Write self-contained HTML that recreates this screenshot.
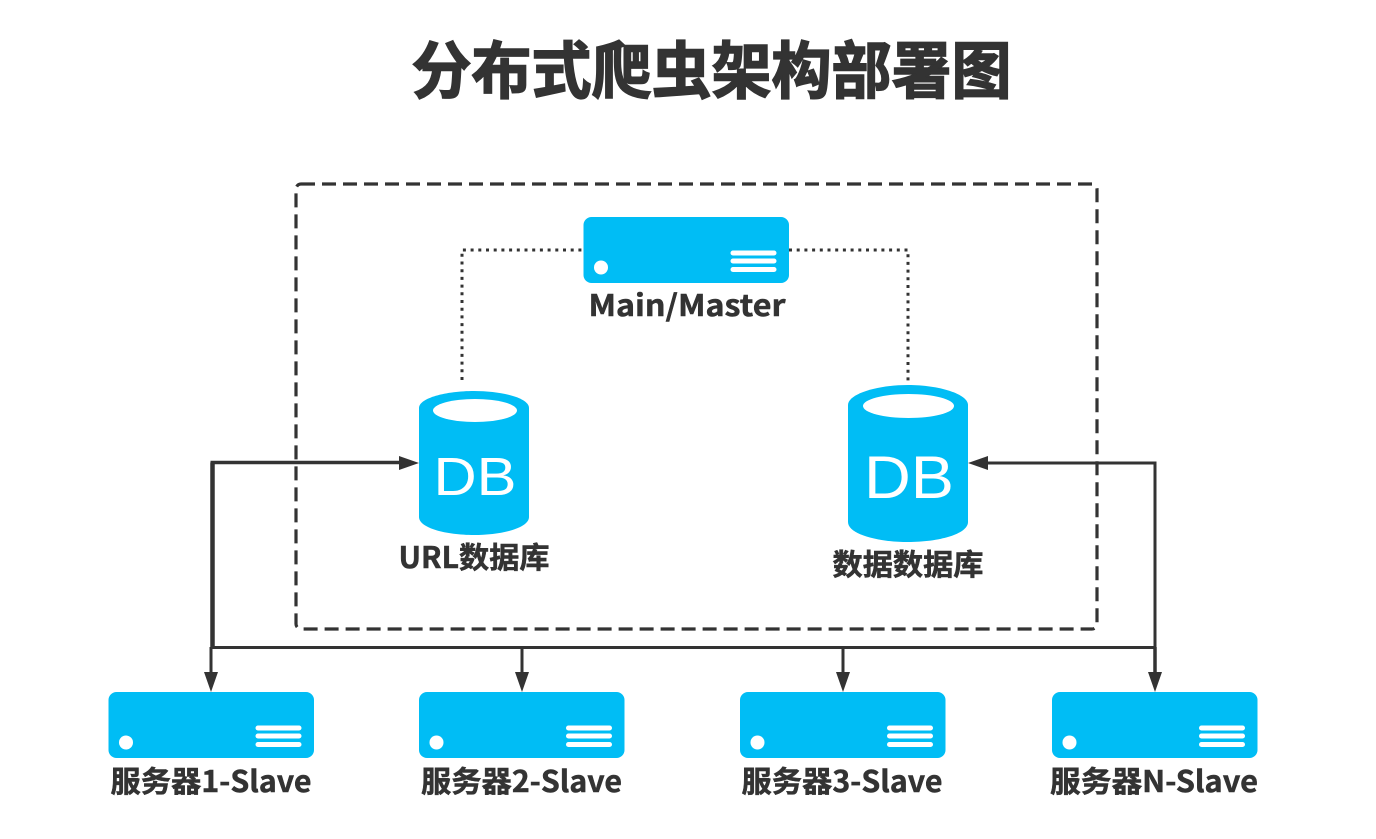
<!DOCTYPE html>
<html lang="zh">
<head>
<meta charset="utf-8">
<title>分布式爬虫架构部署图</title>
<style>
html,body{margin:0;padding:0;background:#fff;width:1376px;height:839px;overflow:hidden}
svg{display:block}
text{font-family:"Noto Sans CJK SC","Liberation Sans",sans-serif;font-weight:700;fill:#333}
.lbl{font-size:29.500px;stroke:#333;stroke-width:.5px}
.db{font-family:"Liberation Sans",sans-serif;font-weight:400;fill:#fff}
</style>
</head>
<body>
<svg width="1376" height="839" viewBox="0 0 1376 839" xmlns="http://www.w3.org/2000/svg">
<defs>
<g id="srv">
<rect x="0" y="0" width="205.500" height="66" rx="8" fill="#00bdf5"/>
<circle cx="17.500" cy="50.500" r="7" fill="#fff"/>
<rect x="147" y="33.500" width="46" height="5" rx="2.500" fill="#fff"/>
<rect x="147" y="41.500" width="46" height="5" rx="2.500" fill="#fff"/>
<rect x="147" y="50" width="46" height="5" rx="2.500" fill="#fff"/>
</g>
</defs>

<text x="711.500" y="93" font-size="62" text-anchor="middle" textLength="600" lengthAdjust="spacingAndGlyphs" stroke="#333" stroke-width="1.600">分布式爬虫架构部署图</text>

<rect x="296" y="184" width="801" height="445" rx="5" fill="none" stroke="#333" stroke-width="3.200" stroke-dasharray="14 7"/>

<path d="M462 380V250H583M789 250H908V383" fill="none" stroke="#333" stroke-width="3" stroke-dasharray="3 4.700"/>

<!-- Master -->
<use href="#srv" x="583.500" y="217"/>
<text class="lbl" x="687" y="316" text-anchor="middle" textLength="197" lengthAdjust="spacingAndGlyphs">Main/Master</text>

<!-- DB 1 -->
<path d="M419 408C419 398 446 391 474 391C502 391 529 398 529 408V517C529 528 502 535 474 535C446 535 419 528 419 517Z" fill="#00bdf5"/>
<ellipse cx="475" cy="410.500" rx="42" ry="11.500" fill="#fff"/>
<text class="db" x="475" y="495" font-size="54" text-anchor="middle" textLength="83" lengthAdjust="spacingAndGlyphs">DB</text>
<text class="lbl" x="474" y="568" text-anchor="middle" textLength="151" lengthAdjust="spacingAndGlyphs">URL数据库</text>

<!-- DB 2 -->
<path d="M848 405C848 394 877 385 908 385C939 385 968 394 968 405V522C968 534 939 542 908 542C877 542 848 534 848 522Z" fill="#00bdf5"/>
<ellipse cx="908.500" cy="406" rx="45.500" ry="12" fill="#fff"/>
<text class="db" x="909" y="498" font-size="60" text-anchor="middle" textLength="90" lengthAdjust="spacingAndGlyphs">DB</text>
<text class="lbl" x="908" y="575" text-anchor="middle" textLength="151" lengthAdjust="spacingAndGlyphs">数据数据库</text>

<!-- Connectors -->
<path d="M212.500 462.500V648" fill="none" stroke="#333" stroke-width="4.500"/>
<path d="M210.500 462.500H400" fill="none" stroke="#333" stroke-width="3.500"/>
<path d="M211 647.500H1155" fill="none" stroke="#333" stroke-width="3"/>
<path d="M211 647V674M522 647V674M843 647V674" fill="none" stroke="#333" stroke-width="3"/>
<path d="M1155 462V674" fill="none" stroke="#333" stroke-width="3"/>
<path d="M1155 647V674" fill="none" stroke="#333" stroke-width="3.500"/>
<path d="M1156.500 463H985" fill="none" stroke="#333" stroke-width="3"/>
<path d="M399 456L419 463L399 470Z" fill="#333"/>
<path d="M988 456L968 463L988 470Z" fill="#333"/>
<path d="M204 672H218L211 692Z" fill="#333"/>
<path d="M515 672H529L522 692Z" fill="#333"/>
<path d="M836 672H850L843 692Z" fill="#333"/>
<path d="M1148 672H1162L1155 692Z" fill="#333"/>

<!-- Slaves -->
<use href="#srv" x="108.500" y="692"/>
<use href="#srv" x="419" y="692"/>
<use href="#srv" x="740" y="692"/>
<use href="#srv" x="1052" y="692"/>

<text class="lbl" x="211" y="792" text-anchor="middle" textLength="201" lengthAdjust="spacingAndGlyphs">服务器1-Slave</text>
<text class="lbl" x="521.500" y="792" text-anchor="middle" textLength="201" lengthAdjust="spacingAndGlyphs">服务器2-Slave</text>
<text class="lbl" x="842" y="792" text-anchor="middle" textLength="201" lengthAdjust="spacingAndGlyphs">服务器3-Slave</text>
<text class="lbl" x="1154" y="792" text-anchor="middle" textLength="208" lengthAdjust="spacingAndGlyphs">服务器N-Slave</text>
</svg>
</body>
</html>
